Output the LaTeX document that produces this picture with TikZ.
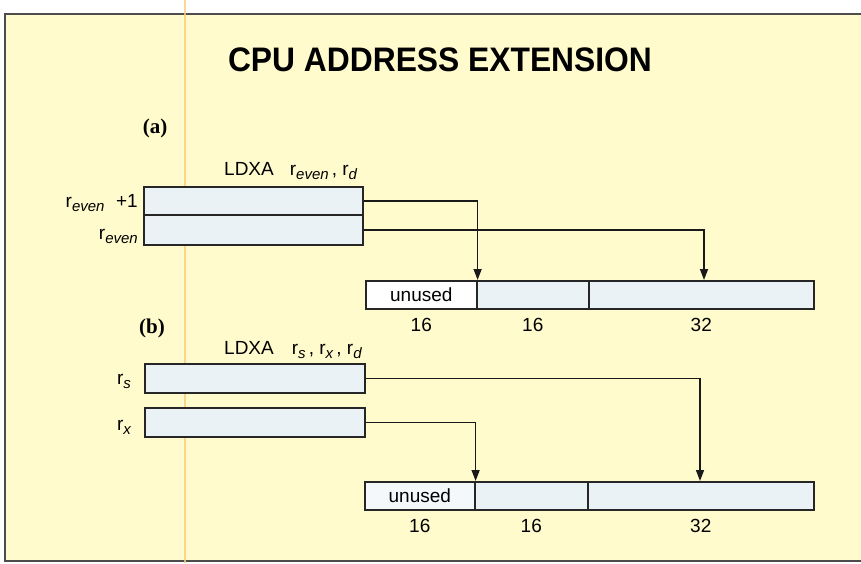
\documentclass[tikz,border=0pt]{standalone}
\usepackage{fontspec}
\setmainfont{Liberation Sans}
\newfontfamily\serifbold{Liberation Serif}
\usetikzlibrary{arrows.meta}
\definecolor{panelbg}{RGB}{255,251,204}
\definecolor{boxblue}{RGB}{234,242,246}
\definecolor{crease}{RGB}{250,205,120}
\newcommand{\sub}[1]{\raisebox{-4pt}{\fontsize{15}{15}\selectfont\itshape #1}}
\begin{document}
\begin{tikzpicture}[x=1pt,y=-1pt,
  cell/.style={draw=black!85, line width=1.6pt, fill=boxblue, inner sep=0pt, anchor=north west, font=\fontsize{19}{19}\selectfont},
  conn/.style={draw=black!90, line width=1.4pt, -{Triangle[length=11pt,width=8pt]}},
  lbl/.style={font=\fontsize{19}{19}\selectfont, inner sep=0pt},
  num/.style={font=\fontsize{19}{19}\selectfont, inner sep=0pt, anchor=north}]
\useasboundingbox (0,0) rectangle (861,563);
\fill[white] (0,0) rectangle (861,563);
\fill[panelbg] (5,14) rectangle (861,561);
\draw[black!70, line width=1.5pt] (861,14) -- (5,14) -- (5,561) -- (861,561);
\draw[crease, line width=1.5pt, opacity=0.8] (185,0) -- (185,563);

\node[inner sep=0pt] (title) at (440,60) {\scalebox{0.935}[1]{\fontsize{34}{34}\selectfont\bfseries CPU ADDRESS EXTENSION}};

% (a)
\node[inner sep=0pt] (la) at (155,128) {\serifbold\bfseries\fontsize{21}{21}\selectfont (a)};
\node[lbl, anchor=base west] (insta) at (224,175) {LDXA\hspace{16pt}r\sub{even}\,, r\sub{d}};
\node[cell, minimum width=219pt, minimum height=28pt] (ra1) at (143,186) {};
\node[cell, minimum width=219pt, minimum height=30pt] (ra2) at (143,214) {};
\node[lbl, anchor=east] (ra1l) at (138,203) {r\sub{even}\,\, +1};
\node[lbl, anchor=east] (ra2l) at (138,236) {r\sub{even}};

\node[cell, fill=white, minimum width=111pt, minimum height=28pt] (a1) at (365,280) {unused};
\node[cell, minimum width=112pt, minimum height=28pt] (a2) at (476,280) {};
\node[cell, minimum width=225pt, minimum height=28pt] (a3) at (588,280) {};
\node[num] (a1n) at ([yshift=-8pt]a1.south) {16};
\node[num] (a2n) at ([yshift=-8pt]a2.south) {16};
\node[num] (a3n) at ([yshift=-8pt]a3.south) {32};
\coordinate (a3t) at (704,280);
\draw[conn] (ra1.east) -| (a1.north east);
\draw[conn] (ra2.east) -| (a3t);

% (b)
\node[inner sep=0pt] (lb) at (152,328) {\serifbold\bfseries\fontsize{21}{21}\selectfont (b)};
\node[lbl, anchor=base west] (instb) at (224,354) {LDXA\hspace{18pt}r\sub{s}\,, r\sub{x}\,, r\sub{d}};
\node[cell, minimum width=220pt, minimum height=29pt] (rs) at (144,363) {};
\node[cell, minimum width=220pt, minimum height=29pt] (rx) at (144,407) {};
\node[lbl] (rsl) at (124,381) {r\sub{s}};
\node[lbl] (rxl) at (124,427) {r\sub{x}};

\node[cell, fill=boxblue!50!white, minimum width=110pt, minimum height=28pt] (b1) at (364,481) {unused};
\node[cell, minimum width=113pt, minimum height=28pt] (b2) at (474,481) {};
\node[cell, minimum width=226pt, minimum height=28pt] (b3) at (587,481) {};
\node[num] (b1n) at ([yshift=-8pt]b1.south) {16};
\node[num] (b2n) at ([yshift=-8pt]b2.south) {16};
\node[num] (b3n) at ([yshift=-8pt]b3.south) {32};
\coordinate (b3t) at (700,481);
\draw[conn] (rs.east) -| (b3t);
\draw[conn] (rx.east) -| (b1.north east);
\end{tikzpicture}
\end{document}
